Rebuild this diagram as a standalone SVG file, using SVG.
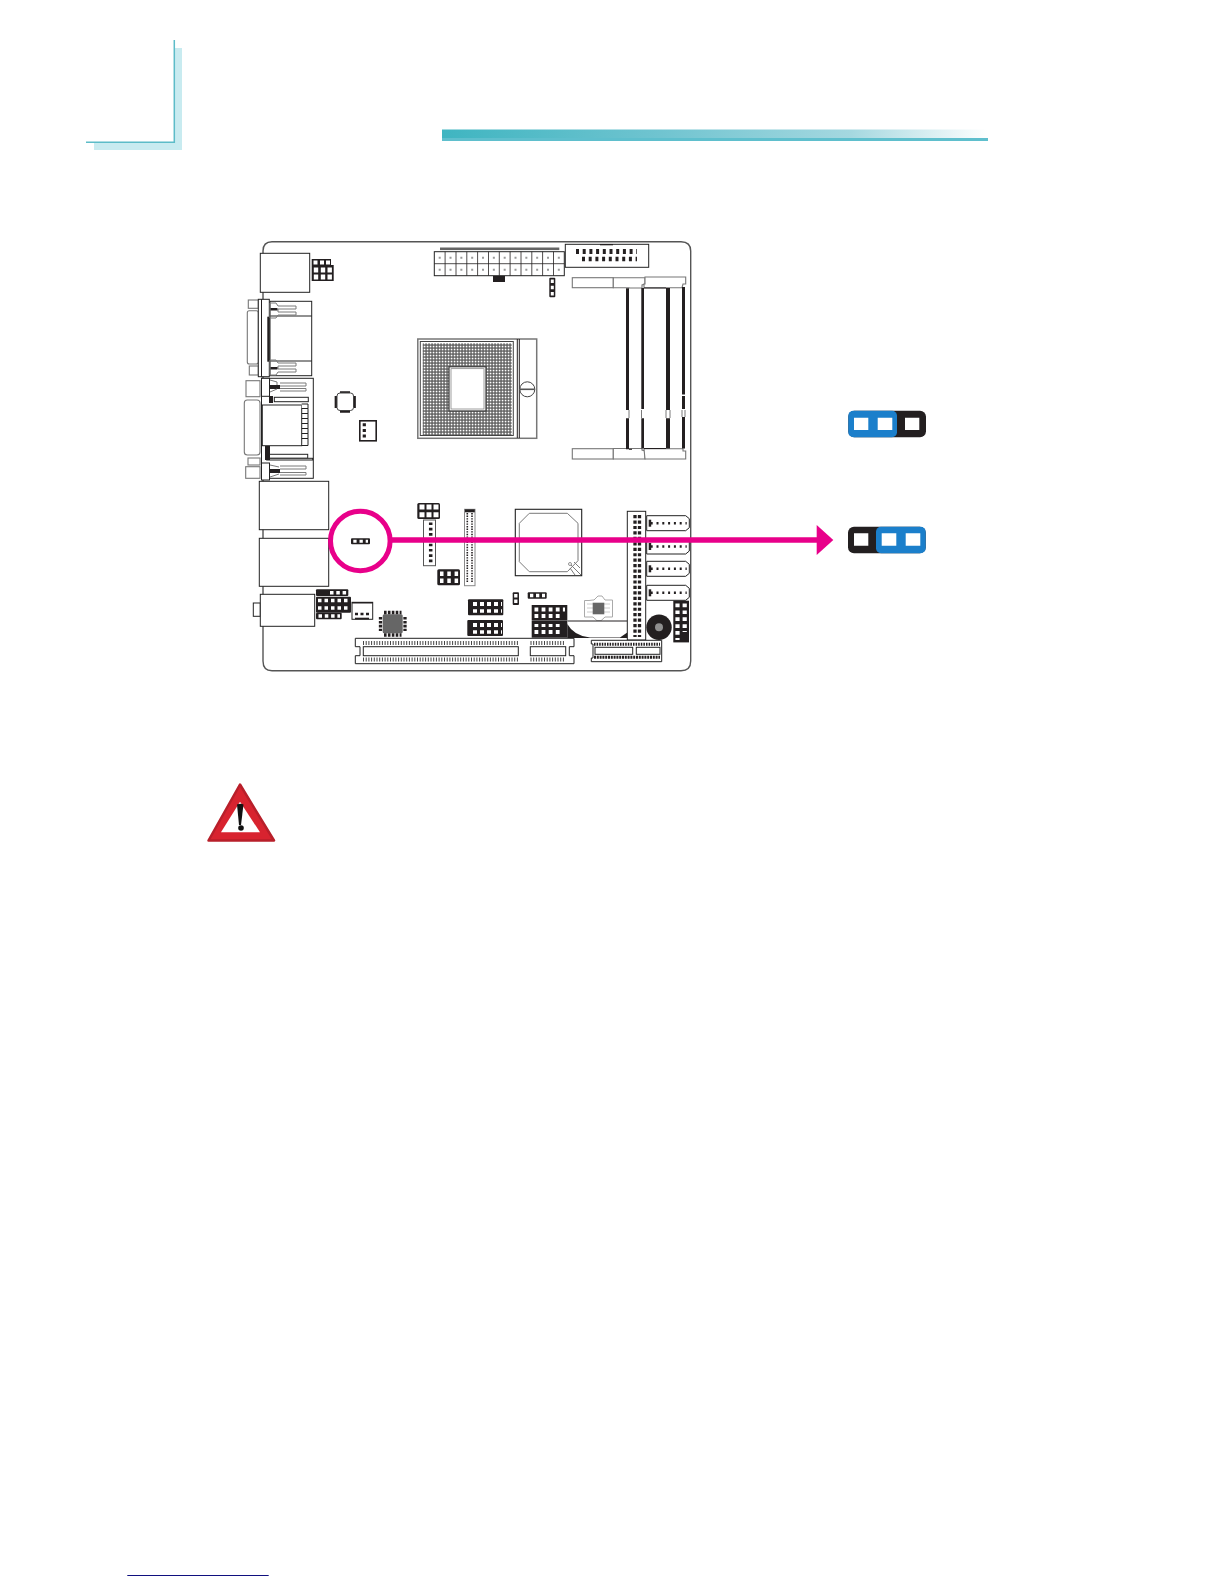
<svg xmlns="http://www.w3.org/2000/svg" width="1224" height="1584" viewBox="0 0 1224 1584">
<style>
.o{fill:#fff;stroke:#222;stroke-width:1}
.g{fill:#fff;stroke:#777;stroke-width:1.100}
.k{fill:#231f20}
.h{fill:none;stroke:#fff}
.p{fill:none;stroke:#231f20}
.gl{fill:none;stroke:#7a7a7a;stroke-width:1}
.pk{fill:none;stroke:#e8008a}
</style>
<defs>
<linearGradient id="bar" x1="0" x2="1" y1="0" y2="0"><stop offset="0" stop-color="#3fb5c1"/><stop offset=".4" stop-color="#70c4d0"/><stop offset=".75" stop-color="#a5d8e0"/><stop offset="1" stop-color="#fff"/></linearGradient>
<pattern id="grid" width="3" height="3" patternUnits="userSpaceOnUse"><rect width="3" height="3" fill="#5a5a5a"/><rect x=".7" y=".7" width="1.700" height="1.700" fill="#fff"/></pattern>
<g id="sata"><path class="o" d="M0 0H39L42.600 3V12L39 15H0Z"/><rect class="k" x="2" y="4" width="2.500" height="7"/><line class="p" x1="4" x2="40" y1="7.500" y2="7.500" stroke-width="2.500" stroke-dasharray="2 3.800"/></g>
<g id="screw"><path class="gl" d="M0 0H6L8 3H26V6H8V9H26V12H8L6 15H0Z"/></g>
</defs>

<g id="page-corner">
<path d="M175 48H182V150H94V143H175Z" fill="#c8ebf0"/>
<path d="M174.300 40V142.300H86" fill="none" stroke="#5cbcc8" stroke-width="1.500"/>
</g>
<g id="title-bar">
<rect x="442" y="129.500" width="546" height="9" fill="url(#bar)"/>
<rect x="442" y="138" width="546" height="3" fill="#5fbfcd"/>
</g>

<g id="board">
<path d="M263 251Q263 241.700 272 241.700H681Q690.700 241.700 690.700 251V661Q690.700 670.700 681 670.700H272Q263 670.700 263 661Z" fill="#fff" stroke="#555" stroke-width="1.400"/>
</g>

<g id="ps2">
<rect class="o" x="260.300" y="253.300" width="49.400" height="39"/>
<path class="k" d="M311.700 259H331V265H333.700V281H311.700Z"/>
<path d="M313.500 260.500h4v4h-4zM320 260.500h4v4h-4zM326 260.500h4v4h-4zM313.800 267.500h4.400v5h-4.400zM320.800 267.500h4.400v5h-4.400zM327.500 267.500h4.400v5h-4.400zM313.800 274.500h4.400v5h-4.400zM320.800 274.500h4.400v5h-4.400zM327.500 274.500h4.400v5h-4.400z" fill="#fff"/>
</g>

<g id="vga">
<rect class="g" x="247.300" y="310.700" width="11" height="53.300" rx="2"/>
<rect class="g" x="248.300" y="300" width="10" height="8.300"/>
<rect class="g" x="249.300" y="366" width="9" height="9"/>
<rect class="o" x="270" y="301.300" width="41.700" height="74.400"/>
<path class="o" d="M270 316H311.700M270 361H311.700" fill="none"/>
<rect class="o" x="258.300" y="299.300" width="11" height="77.400"/>
<line class="p" x1="261.500" x2="261.500" y1="299.300" y2="376.700"/>
<rect class="k" x="267.300" y="316.700" width="2" height="45"/>
<use href="#screw" x="270" y="303"/>
<use href="#screw" x="270" y="360"/>
<rect class="k" x="270.500" y="308" width="7" height="2.500"/>
<rect class="k" x="270.500" y="367" width="7" height="2.500"/>
</g>

<g id="com">
<rect class="g" x="244.300" y="400" width="15.700" height="55" rx="3"/>
<rect class="g" x="246" y="380.700" width="14" height="16"/>
<rect class="g" x="248" y="458" width="12" height="7"/>
<rect class="g" x="245.700" y="466.700" width="14.300" height="11.600"/>
<rect class="o" x="261.500" y="378.300" width="51.800" height="100"/>
<rect class="o" x="261.500" y="378.300" width="8" height="18"/>
<rect class="o" x="261.500" y="463" width="8" height="17"/>
<rect class="o" x="262.300" y="405" width="39.400" height="40.700"/>
<path class="o" d="M301.700 404H308V408.500H301.700M308 408.500V413.500H301.700M308 413.500V418.500H301.700M308 418.500V423.500H301.700M308 423.500V428.500H301.700M308 428.500V433.500H301.700M308 433.500V438.500H301.700M308 438.500V445.500H301.700" fill="#fff"/>
<rect class="o" x="274.300" y="397.300" width="34" height="4.400"/>
<rect class="o" x="266.700" y="454.300" width="41" height="4"/>
<rect class="o" x="266.700" y="458.300" width="46" height="1.700"/>
<rect class="k" x="270" y="385" width="10" height="4"/>
<rect class="k" x="269" y="396" width="4" height="7"/>
<rect class="k" x="265" y="446" width="5" height="14"/>
<rect class="k" x="270" y="469" width="10" height="4"/>
<path class="gl" d="M280 383H306V386H280M280 388.500H306V391H280M280 466H306V469H280M280 472.500H306V475H280"/>
<path class="gl" d="M270 380L277 382V385M270 392L277 389M270 465L279 467M270 477L279 474"/>
</g>

<g id="lan1"><rect class="o" x="259.300" y="481.300" width="69.400" height="48.400"/></g>
<g id="lan2"><rect class="o" x="259.300" y="538.300" width="69.400" height="48"/></g>
<g id="audio">
<rect class="o" x="253.300" y="603" width="7" height="13.300"/>
<rect class="o" x="260.300" y="594.300" width="54.400" height="32"/>
</g>
<g id="audio-header">
<rect class="k" x="316" y="589.300" width="32.300" height="6.700" rx="1"/>
<rect class="k" x="316" y="596.700" width="35" height="16" rx="1"/>
<rect class="k" x="316" y="612.700" width="25.700" height="6.600" rx="1"/>
<line class="h" x1="330" x2="347" y1="592.700" y2="592.700" stroke-width="3.500" stroke-dasharray="3.500 2.800"/>
<line class="h" x1="318" x2="350" y1="600.500" y2="600.500" stroke-width="3.500" stroke-dasharray="3.500 3"/>
<line class="h" x1="318" x2="350" y1="608" y2="608" stroke-width="3.500" stroke-dasharray="3.500 3"/>
<line class="h" x1="318.500" x2="340" y1="616" y2="616" stroke-width="3.500" stroke-dasharray="3.500 2.800"/>
</g>
<g id="fan-bottom">
<rect class="o" x="352" y="602.300" width="20.700" height="17"/>
<rect class="k" x="352" y="602" width="20.700" height="1.500"/>
<rect class="k" x="355" y="617.700" width="14" height="1.600"/>
<line class="p" x1="355" x2="369" y1="614" y2="614" stroke-width="2.500" stroke-dasharray="3 2.500"/>
</g>

<g id="super-io">
<path class="p" d="M340 392.500H350M336 396V408M354.500 396V408M340 411.500H350" stroke-width="2.700"/>
<rect x="337" y="393" width="16.500" height="17.500" rx="3" fill="#fff" stroke="#444"/>
</g>
<g id="fan-cpu">
<rect x="359.800" y="420.800" width="16.400" height="20" fill="#fff" stroke="#231f20" stroke-width="1.600"/>
<line class="p" x1="364.300" x2="364.300" y1="423.300" y2="437.500" stroke-width="3.200" stroke-dasharray="3 2.600"/>
</g>

<g id="cpu-socket">
<rect x="417.800" y="339" width="118.900" height="99.300" fill="#fff" stroke="#777" stroke-width="1.500"/>
<rect x="420.300" y="341.500" width="93" height="94" fill="none" stroke="#444"/>
<rect x="422.700" y="343.300" width="89" height="91.700" fill="url(#grid)"/>
<path class="p" d="M517.300 339V438M519.300 339V438"/>
<rect x="449" y="366.700" width="37" height="44.300" fill="#fff" stroke="#444" stroke-width="1.300"/>
<rect x="451" y="368.700" width="33" height="40.300" fill="#fff" stroke="#777" stroke-width=".7"/>
<circle cx="527.300" cy="389.300" r="7.500" fill="#fff" stroke="#444"/>
<line x1="520" x2="534.700" y1="389.300" y2="389.300" stroke="#555" stroke-width="1.600"/>
</g>

<g id="atx">
<rect x="440" y="247.500" width="119.300" height="2.600" fill="#666"/>
<rect class="k" x="493" y="275.700" width="12" height="6.300"/>
<rect x="434.300" y="251.700" width="130" height="24" fill="#fff" stroke="#222"/>
<path class="p" stroke-width=".8" d="M434.300 263.700H564.300M445.100 251.700V275.700M456 251.700V275.700M466.800 251.700V275.700M477.600 251.700V275.700M488.500 251.700V275.700M499.300 251.700V275.700M510.100 251.700V275.700M521 251.700V275.700M531.800 251.700V275.700M542.600 251.700V275.700M553.500 251.700V275.700"/>
<line x1="438.700" x2="564" y1="257.700" y2="257.700" stroke="#999" stroke-width="2" stroke-dasharray="2 8.830"/>
<line x1="438.700" x2="564" y1="269.700" y2="269.700" stroke="#999" stroke-width="2" stroke-dasharray="2 8.830"/>
</g>
<g id="jp-top">
<rect class="k" x="549.300" y="277.700" width="6" height="19.600" rx="1"/>
<line class="h" x1="552.300" x2="552.300" y1="279.500" y2="296" stroke-width="3" stroke-dasharray="3.500 2.800"/>
</g>
<g id="connector-top">
<rect class="o" x="565.300" y="244.300" width="83.400" height="23"/>
<rect class="k" x="600" y="244" width="13" height="1.300"/>
<line class="p" x1="576" x2="637" y1="251.500" y2="251.500" stroke-width="5" stroke-dasharray="3 3.700"/>
<line class="p" x1="582" x2="637" y1="259" y2="259" stroke-width="4.300" stroke-dasharray="3 3.700"/>
</g>

<g id="dimm">
<rect class="g" x="572.300" y="277.700" width="41" height="10"/>
<path class="g" d="M613.300 277.700H645V284L642 285V288H629V287.700H613.300Z"/>
<path class="g" d="M645 277H685.700V284H683L682 287.700H644V284L645 284Z"/>
<rect class="g" x="572.300" y="448.700" width="41" height="10.300"/>
<path class="g" d="M613.300 459H645V451L642 450V448.500H613.300Z"/>
<path class="g" d="M645 459H685.700V451H683V448.700H644Z"/>
<path class="k" d="M626 288.300H629V410H626ZM626 418.300H629V449.300H626ZM641.300 288H644V409H641.300ZM641.300 418.300H644V448.500H641.300ZM666 288H670V410H666ZM666 418.300H670V448.500H666ZM682 287H685V394.500H682ZM682 396H685V409H682ZM682 417H685V448.500H682Z"/>
<path class="gl" d="M629 410V418M641.500 410V418M666 410V418M670 410V418M682 410V417M685 410V417"/>
<path class="p" d="M629 449.300H632M644 448.500H666M644 288H666"/>
</g>

<g id="jp-ring">
<rect class="k" x="351" y="538.300" width="19" height="6" rx="1"/>
<line class="h" x1="353.300" x2="368" y1="541.300" y2="541.300" stroke-width="3" stroke-dasharray="3.300 2.900"/>
</g>
<g id="header-mid">
<rect class="k" x="417.300" y="503" width="22.700" height="16" rx="1.500"/>
<line class="h" x1="419.500" x2="438.500" y1="507" y2="507" stroke-width="5" stroke-dasharray="5 2"/>
<line class="h" x1="419.500" x2="438.500" y1="514.800" y2="514.800" stroke-width="5" stroke-dasharray="5 2"/>
</g>
<g id="connector-mid">
<rect x="423.500" y="520" width="12" height="45.700" fill="#fff" stroke="#555"/>
<line class="p" x1="430.700" x2="430.700" y1="522.500" y2="562.500" stroke-width="3.500" stroke-dasharray="2.600 2.700"/>
</g>
<g id="lvds">
<rect x="464.500" y="509.300" width="10.500" height="76.400" fill="#fff" stroke="#888"/>
<rect class="k" x="465" y="509.300" width="9.800" height="3"/>
<line class="p" x1="467.300" x2="467.300" y1="513" y2="582" stroke-width="1.600" stroke-dasharray="1.400 1.200"/>
<line class="p" x1="472" x2="472" y1="513" y2="582" stroke-width="1.600" stroke-dasharray="1.400 1.200"/>
</g>
<g id="header-low">
<rect class="k" x="437.300" y="569.300" width="22.700" height="16" rx="1.500"/>
<line class="h" x1="440" x2="459" y1="573.800" y2="573.800" stroke-width="4.500" stroke-dasharray="3.500 3.800"/>
<line class="h" x1="440" x2="459" y1="580.800" y2="580.800" stroke-width="4.500" stroke-dasharray="3.500 3.800"/>
</g>

<g id="chip-low">
<rect x="382.700" y="614.300" width="20" height="19" rx="1.500" fill="#666"/>
<path class="p" d="M384 612.500H401.500M384 635H401.500M380.500 617V631M405 617V631" stroke-width="3.300" stroke-dasharray="2.600 1.300"/>
</g>

<g id="header-a">
<rect class="k" x="468" y="599.300" width="35.300" height="16" rx="1"/>
<line class="h" x1="473" x2="502" y1="604" y2="604" stroke-width="4" stroke-dasharray="4 3"/>
<line class="h" x1="473" x2="502" y1="611" y2="611" stroke-width="3.500" stroke-dasharray="4 3"/>
</g>
<g id="header-b">
<rect class="k" x="467.300" y="620" width="35.700" height="16" rx="1"/>
<line class="h" x1="473" x2="502" y1="625" y2="625" stroke-width="4" stroke-dasharray="4 3"/>
<line class="h" x1="473" x2="502" y1="632" y2="632" stroke-width="3.500" stroke-dasharray="4 3"/>
</g>

<g id="chipset">
<rect x="515.300" y="509.300" width="66.400" height="66.400" fill="#fff" stroke="#222" stroke-width="1.100"/>
<path class="gl" d="M529.300 513.300H567.300L578 523.300V560.700L567.300 571.700H529.300L519.300 561.700V523.300Z"/>
<path class="gl" d="M569 563L581 575M574 562L580 568M570 568L575 575"/>
<circle cx="570" cy="564" r="1.500" fill="#fff" stroke="#666" stroke-width=".7"/>
</g>
<g id="jp-low">
<rect class="k" x="512.700" y="592.300" width="6.300" height="12.700" rx="1"/>
<line class="h" x1="515.800" x2="515.800" y1="594" y2="604" stroke-width="3.300" stroke-dasharray="3.500 2"/>
<rect class="k" x="527.700" y="592.300" width="19" height="6.400" rx="1"/>
<line class="h" x1="530" x2="545" y1="595.500" y2="595.500" stroke-width="3.300" stroke-dasharray="3.300 2.700"/>
</g>
<g id="header-c">
<rect class="k" x="531.700" y="605" width="35.600" height="15.700"/>
<rect class="k" x="531.700" y="621" width="35.600" height="16.700"/>
<line class="h" x1="534.500" x2="565" y1="609.500" y2="609.500" stroke-width="4" stroke-dasharray="3.800 3.300"/>
<line class="h" x1="534.500" x2="561" y1="616" y2="616" stroke-width="4" stroke-dasharray="3.800 3.300"/>
<line class="h" x1="534.500" x2="561" y1="625.500" y2="625.500" stroke-width="3" stroke-dasharray="3.800 3.300"/>
<line class="h" x1="534.500" x2="561" y1="632" y2="632" stroke-width="4" stroke-dasharray="3.800 3.300"/>
</g>
<g id="chip-small">
<path d="M589 600.500L593 600H594L598 596H602L605 600H612.500V617H605L601 620.700H597L593 617H584.500V600.500Z" fill="#fff" stroke="#aaa"/>
<path d="M587 604H610M587 608H610M587 612H610" stroke="#ccc" fill="none"/>
<rect x="592.700" y="602.700" width="11.600" height="11.600" fill="#666"/>
</g>
<g id="battery">
<path d="M567.300 621H627.300V637C620 640 575 640 567.300 621Z" fill="#fff"/>
<path class="p" d="M567.300 621H627.300"/>
<path d="M567.300 624Q574 636 590 637.500H620L628 632V638H567.300Z" fill="#231f20"/>
</g>
<g id="slot-pci">
<path class="o" d="M355.300 638.300H574V646.700H569.300V655.700H574V663.700H355.300V655.700H360V646.700H355.300Z"/>
<rect class="o" x="363.300" y="646.700" width="155" height="9"/>
<rect class="o" x="530.300" y="646.700" width="35.400" height="9"/>
<path class="p" d="M363 643H518M530.500 643H565M363 659.500H518M530.500 659.500H565" stroke-width="4" stroke-dasharray="1 1.700" style="stroke:#444"/>
</g>
<g id="ide">
<rect x="627.300" y="511.300" width="18.400" height="128.700" fill="#fff" stroke="#222"/>
<line class="p" x1="635" x2="635" y1="515" y2="637" stroke-width="3.300" stroke-dasharray="3.200 2.250"/>
<line class="p" x1="639.500" x2="639.500" y1="515" y2="637" stroke-width="3.300" stroke-dasharray="3.200 2.250"/>
</g>
<g id="sata-1"><use href="#sata" x="646.700" y="515.700"/></g>
<g id="sata-2"><use href="#sata" x="646.700" y="539"/></g>
<g id="sata-3"><use href="#sata" x="646.700" y="561.300"/></g>
<g id="sata-4"><use href="#sata" x="646.700" y="585.300"/></g>
<g id="header-right">
<rect class="k" x="673.300" y="600.700" width="15.700" height="41.700"/>
<line class="h" x1="677.500" x2="677.500" y1="603.500" y2="640" stroke-width="4.200" stroke-dasharray="3.700 3.200"/>
<line class="h" x1="684.700" x2="684.700" y1="603.500" y2="632" stroke-width="4.200" stroke-dasharray="3.700 3.200"/>
</g>
<g id="buzzer">
<circle cx="659" cy="627.300" r="12.700" fill="#231f20"/>
<circle cx="659" cy="627.300" r="4" fill="#8f8f8f"/>
</g>
<g id="slot-bottom">
<path class="o" d="M591.300 640.300H661.700V661.700H591.300V658H593V644H591.300Z"/>
<rect class="o" x="595" y="647.300" width="37.700" height="7"/>
<rect class="o" x="636.300" y="647.300" width="23.700" height="7"/>
<line class="p" x1="594" x2="660" y1="644.300" y2="644.300" stroke-width="3" stroke-dasharray="1.500 1.100"/>
<line class="p" x1="594" x2="660" y1="657.300" y2="657.300" stroke-width="3" stroke-dasharray="2 .8"/>
</g>

<g id="connectors">
<circle class="pk" cx="360.300" cy="541" r="29.800" stroke-width="5"/>
<line class="pk" x1="390" x2="818" y1="540" y2="540" stroke-width="5.500"/>
<path d="M816.700 525L833.300 540L816.700 555Z" fill="#e8008a"/>
</g>

<g id="jumper-1-2">
<rect class="k" x="848.300" y="410.700" width="77.700" height="26.600" rx="6"/>
<rect x="848.300" y="410.700" width="48.700" height="26.600" rx="5" fill="#1b7fcb"/>
<path d="M854 417.700h14.300v12.300h-14.300zM877.700 417.700h14.600v12.300h-14.600zM905 417.700h14.300v12.300h-14.300z" fill="#fff"/>
</g>
<g id="jumper-2-3">
<rect class="k" x="848" y="526.700" width="77.700" height="26.600" rx="6"/>
<rect x="876" y="526.700" width="49.700" height="26.600" rx="5" fill="#1b7fcb"/>
<path d="M854 533.300h14.300v12.400h-14.300zM881.700 533.300h14.600v12.400h-14.600zM905.700 533.300h14.600v12.400h-14.600z" fill="#fff"/>
</g>

<g id="warning">
<path d="M240 784.500L274 840.500H208.500Z" fill="#d8232f" stroke="#b81f2a" stroke-width="2.500" stroke-linejoin="round"/>
<path d="M240 801.700L260 832.300H221Z" fill="#fff"/>
<path d="M237 804.500Q240.500 803 243.500 804.500L241 825H239Z" fill="#111"/>
<circle cx="241" cy="828" r="2.800" fill="#111"/>
</g>

<g id="footer"><line x1="127.300" x2="268.700" y1="1575.500" y2="1575.500" stroke="#10107f" stroke-width="1"/></g>
</svg>
